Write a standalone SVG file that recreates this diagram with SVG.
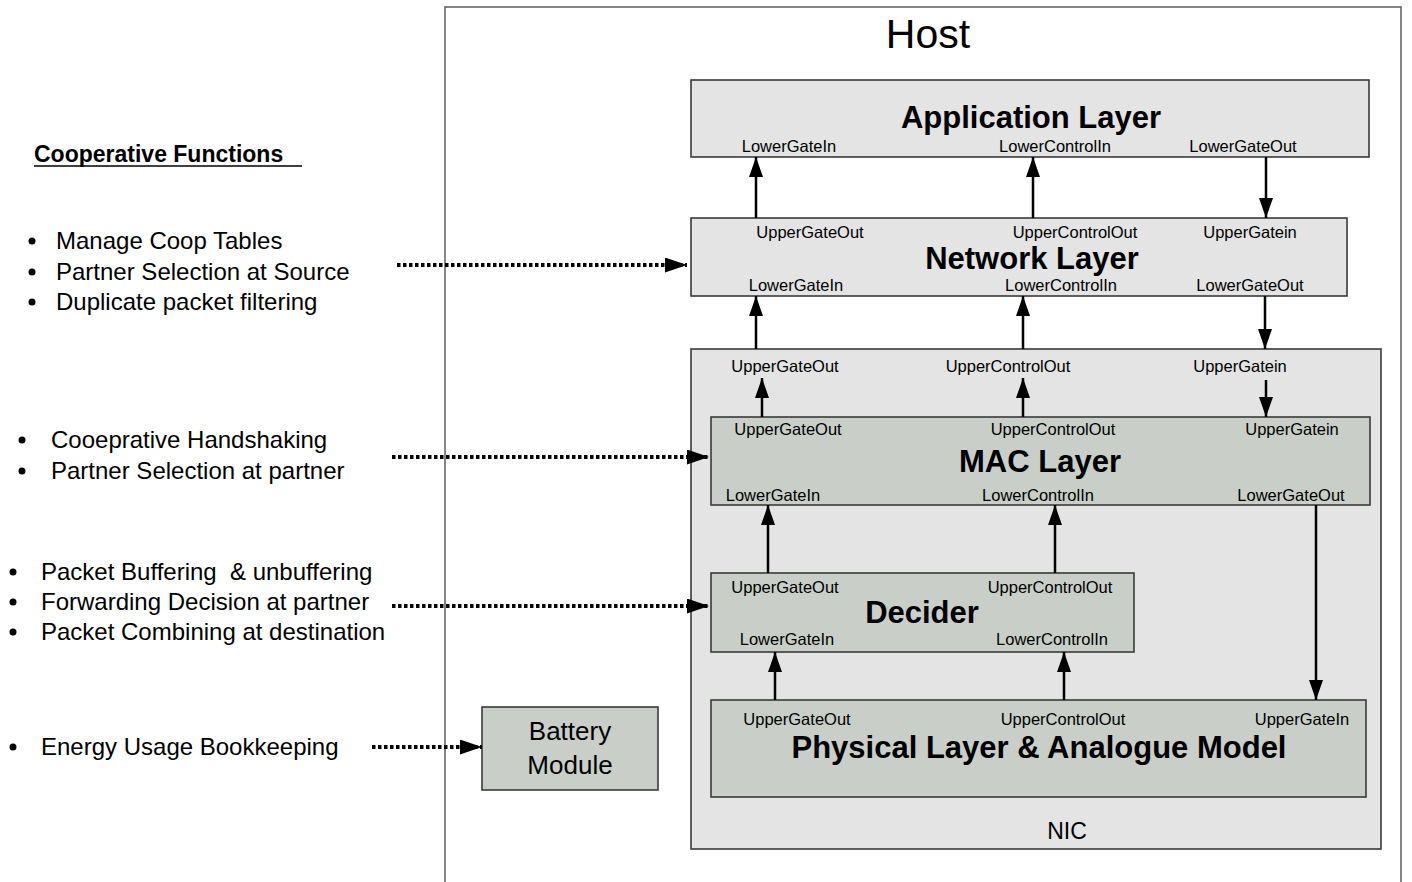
<svg xmlns="http://www.w3.org/2000/svg" width="1412" height="882" viewBox="0 0 1412 882">
<style>
text{font-family:"Liberation Sans",Arial,sans-serif;fill:#000}
.port{font-size:16.5px;text-anchor:middle}
.title{font-size:31px;font-weight:bold;text-anchor:middle}
.bullet{font-size:24px}
.grey{fill:#e4e4e4;stroke:#3a3a3a;stroke-width:1.6}
.green{fill:#c9cfc8;stroke:#3a3a3a;stroke-width:1.6}
.arr{stroke:#000;stroke-width:2.5;fill:none;marker-end:url(#ah)}
.dot{stroke:#000;stroke-width:4;fill:none;stroke-dasharray:3.5 2.5;marker-end:url(#dh)}
</style>
<defs>
<marker id="ah" markerUnits="userSpaceOnUse" markerWidth="20" markerHeight="14" viewBox="0 0 20 14" refX="20" refY="7" orient="auto">
<path d="M0,0 L20,7 L0,14 Z" fill="#000"/>
</marker>
<marker id="dh" markerUnits="userSpaceOnUse" markerWidth="22" markerHeight="15" viewBox="0 0 22 15" refX="22" refY="7.5" orient="auto">
<path d="M0,0 L22,7.5 L0,15 Z" fill="#000"/>
</marker>
</defs>
<rect width="1412" height="882" fill="#fff"/>

<g id="host">
<rect x="445" y="7" width="956" height="900" fill="#fff" stroke="#666" stroke-width="1.6"/>
<text x="928" y="48" font-size="41" text-anchor="middle">Host</text>
</g>

<g id="app">
<rect class="grey" x="691" y="80" width="678" height="77"/>
<text class="title" x="1031" y="128">Application Layer</text>
<text class="port" x="789" y="152">LowerGateIn</text>
<text class="port" x="1055" y="152">LowerControlIn</text>
<text class="port" x="1243" y="152">LowerGateOut</text>
</g>

<g id="net">
<rect class="grey" x="691" y="218" width="656" height="78"/>
<text class="title" x="1032" y="269">Network Layer</text>
<text class="port" x="810" y="238">UpperGateOut</text>
<text class="port" x="1075" y="238">UpperControlOut</text>
<text class="port" x="1250" y="238">UpperGatein</text>
<text class="port" x="796" y="291">LowerGateIn</text>
<text class="port" x="1061" y="291">LowerControlIn</text>
<text class="port" x="1250" y="291">LowerGateOut</text>
</g>

<g id="nic">
<rect class="grey" x="691" y="349" width="690" height="500"/>
<text x="1067" y="839" font-size="23" text-anchor="middle">NIC</text>
<text class="port" x="785" y="372">UpperGateOut</text>
<text class="port" x="1008" y="372">UpperControlOut</text>
<text class="port" x="1240" y="372">UpperGatein</text>
</g>

<g id="mac">
<rect class="green" x="711" y="417" width="659" height="88"/>
<text class="title" x="1040" y="472">MAC Layer</text>
<text class="port" x="788" y="435">UpperGateOut</text>
<text class="port" x="1053" y="435">UpperControlOut</text>
<text class="port" x="1292" y="435">UpperGatein</text>
<text class="port" x="773" y="501">LowerGateIn</text>
<text class="port" x="1038" y="501">LowerControlIn</text>
<text class="port" x="1291" y="501">LowerGateOut</text>
</g>

<g id="decider">
<rect class="green" x="711" y="573" width="423" height="79"/>
<text class="title" x="922" y="623">Decider</text>
<text class="port" x="785" y="593">UpperGateOut</text>
<text class="port" x="1050" y="593">UpperControlOut</text>
<text class="port" x="787" y="645">LowerGateIn</text>
<text class="port" x="1052" y="645">LowerControlIn</text>
</g>

<g id="phy">
<rect class="green" x="711" y="700" width="655" height="97"/>
<text class="title" x="1039" y="758">Physical Layer &amp; Analogue Model</text>
<text class="port" x="797" y="725">UpperGateOut</text>
<text class="port" x="1063" y="725">UpperControlOut</text>
<text class="port" x="1302" y="725">UpperGateIn</text>
</g>

<g id="battery">
<rect class="green" x="482" y="707" width="176" height="83"/>
<text x="570" y="740" font-size="26" text-anchor="middle">Battery</text>
<text x="570" y="774" font-size="26" text-anchor="middle">Module</text>
</g>

<g id="functions">
<text x="34" y="162" font-size="23" font-weight="bold">Cooperative Functions </text>
<line x1="34" y1="166" x2="302" y2="166" stroke="#000" stroke-width="1.6"/>
<circle cx="32" cy="241" r="3.5"/><text class="bullet" x="56" y="249">Manage Coop Tables</text>
<circle cx="32" cy="272" r="3.5"/><text class="bullet" x="56" y="280">Partner Selection at Source</text>
<circle cx="32" cy="302" r="3.5"/><text class="bullet" x="56" y="310">Duplicate packet filtering</text>
<circle cx="22" cy="440" r="3.5"/><text class="bullet" x="51" y="448">Cooeprative Handshaking</text>
<circle cx="22" cy="471" r="3.5"/><text class="bullet" x="51" y="479">Partner Selection at partner</text>
<circle cx="13" cy="572" r="3.5"/><text class="bullet" x="41" y="580" xml:space="preserve">Packet Buffering  &amp; unbuffering</text>
<circle cx="13" cy="602" r="3.5"/><text class="bullet" x="41" y="610">Forwarding Decision at partner</text>
<circle cx="13" cy="632" r="3.5"/><text class="bullet" x="41" y="640">Packet Combining at destination</text>
<circle cx="13" cy="747" r="3.5"/><text class="bullet" x="41" y="755">Energy Usage Bookkeeping</text>
</g>

<g id="connectors">
<line class="arr" x1="756" y1="218" x2="756" y2="157"/>
<line class="arr" x1="1033" y1="218" x2="1033" y2="157"/>
<line class="arr" x1="1266" y1="157" x2="1266" y2="218"/>
<line class="arr" x1="756" y1="349" x2="756" y2="296"/>
<line class="arr" x1="1023" y1="349" x2="1023" y2="296"/>
<line class="arr" x1="1265" y1="296" x2="1265" y2="349"/>
<line class="arr" x1="762" y1="417" x2="762" y2="378"/>
<line class="arr" x1="1023" y1="417" x2="1023" y2="378"/>
<line class="arr" x1="1266" y1="380" x2="1266" y2="417"/>
<line class="arr" x1="768" y1="573" x2="768" y2="505"/>
<line class="arr" x1="1055" y1="573" x2="1055" y2="505"/>
<line class="arr" x1="1316" y1="505" x2="1316" y2="700"/>
<line class="arr" x1="775" y1="700" x2="775" y2="652"/>
<line class="arr" x1="1064" y1="700" x2="1064" y2="652"/>
<line class="dot" x1="397" y1="265" x2="687" y2="265"/>
<line class="dot" x1="392" y1="457" x2="709" y2="457"/>
<line class="dot" x1="392" y1="606" x2="709" y2="606"/>
<line class="dot" x1="372" y1="747" x2="482" y2="747"/>
</g>
</svg>
